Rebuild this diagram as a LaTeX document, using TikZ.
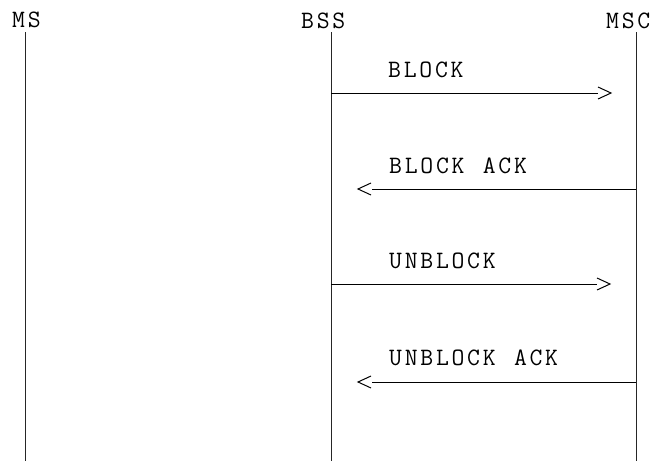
\documentclass[tikz,border=0pt]{standalone}
\newcommand{\msgfont}{\ttfamily\fontsize{25pt}{27pt}\selectfont}
\def\spc#1{\spcA#1\relax}
\def\spcA#1{\ifx#1\relax\else\makebox[15.6pt][l]{#1}\expandafter\spcA\fi}
\begin{document}
\begin{tikzpicture}[x=1pt,y=-1pt,
  lbl/.style={anchor=base west,inner sep=0pt,font=\msgfont},
  life/.style={line width=1pt,black!85},
  msg/.style={line width=1pt},
  chev/.style={line width=1pt}]
\useasboundingbox (0,0) rectangle (653,461);
% headers
\node[lbl] (ms) at (12,27) {\spc{MS}};
\node[lbl] (bss) at (301,28) {\spc{BSS}};
\node[lbl] (msc) at (606,28) {\spc{MSC}};
% lifelines
\coordinate (msT) at (25,32);  \coordinate (msB) at (25,461);
\coordinate (bssT) at (331,32); \coordinate (bssB) at (331,461);
\coordinate (mscT) at (636,32); \coordinate (mscB) at (636,461);
\draw[life] (msT) -- (msB);
\draw[life] (bssT) -- (bssB);
\draw[life] (mscT) -- (mscB);
% BLOCK
\node[lbl] (m1) at (388,77) {\spc{BLOCK}};
\coordinate (a1s) at (331,93); \coordinate (a1e) at (598,93);
\draw[msg] (a1s) -- (a1e);
\draw[chev] (598,87) -- (611,93) -- (598,99);
% BLOCK ACK
\node[lbl] (m2) at (389,173) {\spc{BLOCK~ACK}};
\coordinate (a2s) at (636,189); \coordinate (a2e) at (372,189);
\draw[msg] (a2s) -- (a2e);
\draw[chev] (371,183) -- (358,189) -- (371,195);
% UNBLOCK
\node[lbl] (m3) at (389,268) {\spc{UNBLOCK}};
\coordinate (a3s) at (331,284); \coordinate (a3e) at (597,284);
\draw[msg] (a3s) -- (a3e);
\draw[chev] (597,278) -- (610,284) -- (597,290);
% UNBLOCK ACK
\node[lbl] (m4) at (389,365) {\spc{UNBLOCK~ACK}};
\coordinate (a4s) at (636,382); \coordinate (a4e) at (372,382);
\draw[msg] (a4s) -- (a4e);
\draw[chev] (371,376) -- (358,382) -- (371,388);
\end{tikzpicture}
\end{document}
